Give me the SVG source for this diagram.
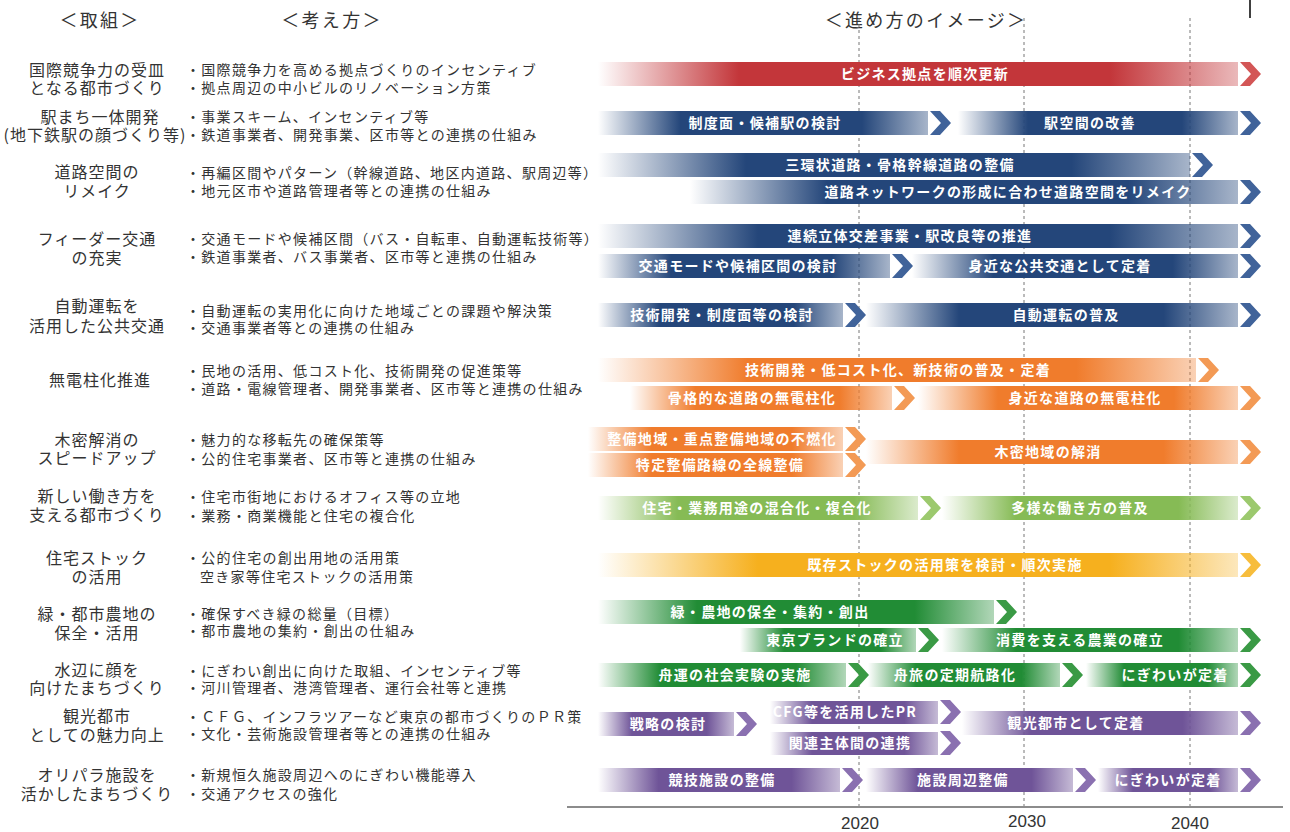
<svg xmlns="http://www.w3.org/2000/svg" width="1290" height="832" viewBox="0 0 1290 832">
<style>
text{font-family:"Noto Sans CJK JP","Noto Sans CJK SC",sans-serif;}
.hd{font-size:18px;fill:#333;text-anchor:middle;letter-spacing:2.3px}
.lt{font-size:16px;fill:#333;text-anchor:middle;letter-spacing:1px}
.mt{font-size:14px;fill:#333;letter-spacing:1.3px}
.bt{font-size:14px;fill:#fff;font-weight:bold;text-anchor:middle;letter-spacing:1.3px}
.yr{font-size:17px;fill:#333;text-anchor:middle;font-family:"Liberation Sans",sans-serif}
.grid{stroke:#777;stroke-width:1;stroke-dasharray:3,3}
.red{fill:url(#gRed)}.cred{fill:#d35656}
.blu{fill:url(#gBlu)}.cblu{fill:#40639a}
.org{fill:url(#gOrg)}.corg{fill:#f39a55}
.lgr{fill:url(#gLgr)}.clgr{fill:#9cc96e}
.yel{fill:url(#gYel)}.cyel{fill:#f7bd3c}
.grn{fill:url(#gGrn)}.cgrn{fill:#3a9a45}
.pur{fill:url(#gPur)}.cpur{fill:#8a70b0}
</style>
<defs>
<linearGradient id="gRed"><stop offset="0" stop-color="#c3363a" stop-opacity="0"/><stop offset="0.22" stop-color="#c3363a"/><stop offset="0.8" stop-color="#c3363a"/><stop offset="1" stop-color="#c3363a" stop-opacity="0.35"/></linearGradient>
<linearGradient id="gBlu"><stop offset="0" stop-color="#24467a" stop-opacity="0"/><stop offset="0.25" stop-color="#24467a"/><stop offset="0.8" stop-color="#24467a"/><stop offset="1" stop-color="#24467a" stop-opacity="0.4"/></linearGradient>
<linearGradient id="gOrg"><stop offset="0" stop-color="#f07c2c" stop-opacity="0"/><stop offset="0.25" stop-color="#f07c2c"/><stop offset="0.8" stop-color="#f07c2c"/><stop offset="1" stop-color="#f07c2c" stop-opacity="0.35"/></linearGradient>
<linearGradient id="gLgr"><stop offset="0" stop-color="#86bb55" stop-opacity="0"/><stop offset="0.25" stop-color="#86bb55"/><stop offset="0.8" stop-color="#86bb55"/><stop offset="1" stop-color="#86bb55" stop-opacity="0.3"/></linearGradient>
<linearGradient id="gYel"><stop offset="0" stop-color="#f6b01e" stop-opacity="0"/><stop offset="0.25" stop-color="#f6b01e"/><stop offset="0.8" stop-color="#f6b01e"/><stop offset="1" stop-color="#f6b01e" stop-opacity="0.3"/></linearGradient>
<linearGradient id="gGrn"><stop offset="0" stop-color="#218c35" stop-opacity="0"/><stop offset="0.25" stop-color="#218c35"/><stop offset="0.8" stop-color="#218c35"/><stop offset="1" stop-color="#218c35" stop-opacity="0.35"/></linearGradient>
<linearGradient id="gPur"><stop offset="0" stop-color="#6f5498" stop-opacity="0"/><stop offset="0.25" stop-color="#6f5498"/><stop offset="0.8" stop-color="#6f5498"/><stop offset="1" stop-color="#6f5498" stop-opacity="0.4"/></linearGradient>
<polygon id="chev" points="0,0 10,0 21,12 10,24 0,24 11,12"/>
</defs>
<rect width="1290" height="832" fill="#fff"/>

<g id="headers">
<text class="hd" x="100" y="27">＜取組＞</text>
<text class="hd" x="332" y="27">＜考え方＞</text>
<text class="hd" x="926" y="27">＜進め方のイメージ＞</text>
<line x1="1250" y1="0" x2="1250" y2="18" stroke="#000" stroke-width="1.5"/>
</g>

<g id="connectors">
<line class="grid" x1="859" y1="18" x2="859" y2="806"/>
<line class="grid" x1="1024" y1="18" x2="1024" y2="806"/>
<line class="grid" x1="1190" y1="18" x2="1190" y2="806"/>
<line x1="567" y1="807" x2="1283" y2="807" stroke="#666" stroke-width="1.5"/>
</g>

<g id="axis-labels">
<text class="yr" x="860" y="829">2020</text>
<text class="yr" x="1027" y="827">2030</text>
<text class="yr" x="1190" y="829">2040</text>
</g>

<g id="row1">
<text class="lt" x="97" y="76">国際競争力の受皿</text>
<text class="lt" x="97" y="94">となる都市づくり</text>
<text class="mt" x="186" y="75">・国際競争力を高める拠点づくりのインセンティブ</text>
<text class="mt" x="186" y="93">・拠点周辺の中小ビルのリノベーション方策</text>
<rect class="red" x="598" y="62" width="640" height="24"/><use href="#chev" class="cred" x="1240" y="62"/>
<text class="bt" x="925" y="79">ビジネス拠点を順次更新</text>
</g>

<g id="row2">
<text class="lt" x="100" y="123">駅まち一体開発</text>
<text class="lt" x="95" y="141">(地下鉄駅の顔づくり等)</text>
<text class="mt" x="186" y="122">・事業スキーム、インセンティブ等</text>
<text class="mt" x="186" y="140">・鉄道事業者、開発事業、区市等との連携の仕組み</text>
<rect class="blu" x="598" y="111" width="330" height="24"/><use href="#chev" class="cblu" x="930" y="111"/>
<rect class="blu" x="958" y="111" width="280" height="24"/><use href="#chev" class="cblu" x="1240" y="111"/>
<text class="bt" x="765" y="128">制度面・候補駅の検討</text>
<text class="bt" x="1090" y="128">駅空間の改善</text>
</g>

<g id="row3">
<text class="lt" x="97" y="178">道路空間の</text>
<text class="lt" x="97" y="197">リメイク</text>
<text class="mt" x="186" y="178">・再編区間やパターン（幹線道路、地区内道路、駅周辺等）</text>
<text class="mt" x="186" y="196">・地元区市や道路管理者等との連携の仕組み</text>
<rect class="blu" x="598" y="153" width="592" height="24"/><use href="#chev" class="cblu" x="1192" y="153"/>
<rect class="blu" x="690" y="180" width="548" height="24"/><use href="#chev" class="cblu" x="1240" y="180"/>
<text class="bt" x="900" y="170">三環状道路・骨格幹線道路の整備</text>
<text class="bt" x="1008" y="197">道路ネットワークの形成に合わせ道路空間をリメイク</text>
</g>

<g id="row4">
<text class="lt" x="97" y="245">フィーダー交通</text>
<text class="lt" x="97" y="264">の充実</text>
<text class="mt" x="186" y="244">・交通モードや候補区間（バス・自転車、自動運転技術等）</text>
<text class="mt" x="186" y="262">・鉄道事業者、バス事業者、区市等と連携の仕組み</text>
<rect class="blu" x="598" y="224" width="640" height="24"/><use href="#chev" class="cblu" x="1240" y="224"/>
<rect class="blu" x="598" y="254" width="292" height="24"/><use href="#chev" class="cblu" x="892" y="254"/>
<rect class="blu" x="912" y="254" width="326" height="24"/><use href="#chev" class="cblu" x="1240" y="254"/>
<text class="bt" x="910" y="241">連続立体交差事業・駅改良等の推進</text>
<text class="bt" x="738" y="271">交通モードや候補区間の検討</text>
<text class="bt" x="1060" y="271">身近な公共交通として定着</text>
</g>

<g id="row5">
<text class="lt" x="97" y="312">自動運転を</text>
<text class="lt" x="97" y="332">活用した公共交通</text>
<text class="mt" x="186" y="316">・自動運転の実用化に向けた地域ごとの課題や解決策</text>
<text class="mt" x="186" y="333">・交通事業者等との連携の仕組み</text>
<rect class="blu" x="598" y="303" width="245" height="24"/><use href="#chev" class="cblu" x="845" y="303"/>
<rect class="blu" x="866" y="303" width="372" height="24"/><use href="#chev" class="cblu" x="1240" y="303"/>
<text class="bt" x="722" y="320">技術開発・制度面等の検討</text>
<text class="bt" x="1066" y="320">自動運転の普及</text>
</g>

<g id="row6">
<text class="lt" x="100" y="386">無電柱化推進</text>
<text class="mt" x="186" y="376">・民地の活用、低コスト化、技術開発の促進策等</text>
<text class="mt" x="186" y="394">・道路・電線管理者、開発事業者、区市等と連携の仕組み</text>
<rect class="org" x="598" y="358" width="598" height="24"/><use href="#chev" class="corg" x="1198" y="358"/>
<rect class="org" x="630" y="386" width="262" height="24"/><use href="#chev" class="corg" x="894" y="386"/>
<rect class="org" x="918" y="386" width="320" height="24"/><use href="#chev" class="corg" x="1240" y="386"/>
<text class="bt" x="898" y="375">技術開発・低コスト化、新技術の普及・定着</text>
<text class="bt" x="752" y="403">骨格的な道路の無電柱化</text>
<text class="bt" x="1085" y="403">身近な道路の無電柱化</text>
</g>

<g id="row7">
<text class="lt" x="97" y="446">木密解消の</text>
<text class="lt" x="97" y="464">スピードアップ</text>
<text class="mt" x="186" y="445">・魅力的な移転先の確保策等</text>
<text class="mt" x="186" y="464">・公的住宅事業者、区市等と連携の仕組み</text>
<rect class="org" x="588" y="427" width="255" height="24"/><use href="#chev" class="corg" x="845" y="427"/>
<rect class="org" x="588" y="453" width="255" height="24"/><use href="#chev" class="corg" x="845" y="453"/>
<rect class="org" x="866" y="440" width="372" height="24"/><use href="#chev" class="corg" x="1240" y="440"/>
<text class="bt" x="722" y="444">整備地域・重点整備地域の不燃化</text>
<text class="bt" x="720" y="470">特定整備路線の全線整備</text>
<text class="bt" x="1048" y="457">木密地域の解消</text>
</g>

<g id="row8">
<text class="lt" x="97" y="502">新しい働き方を</text>
<text class="lt" x="97" y="521">支える都市づくり</text>
<text class="mt" x="186" y="502">・住宅市街地におけるオフィス等の立地</text>
<text class="mt" x="186" y="521">・業務・商業機能と住宅の複合化</text>
<rect class="lgr" x="598" y="496" width="320" height="24"/><use href="#chev" class="clgr" x="920" y="496"/>
<rect class="lgr" x="942" y="496" width="296" height="24"/><use href="#chev" class="clgr" x="1240" y="496"/>
<text class="bt" x="757" y="513">住宅・業務用途の混合化・複合化</text>
<text class="bt" x="1080" y="513">多様な働き方の普及</text>
</g>

<g id="row9">
<text class="lt" x="97" y="564">住宅ストック</text>
<text class="lt" x="97" y="583">の活用</text>
<text class="mt" x="186" y="563">・公的住宅の創出用地の活用策</text>
<text class="mt" x="200" y="582">空き家等住宅ストックの活用策</text>
<rect class="yel" x="598" y="553" width="640" height="24"/><use href="#chev" class="cyel" x="1240" y="553"/>
<text class="bt" x="945" y="570">既存ストックの活用策を検討・順次実施</text>
</g>

<g id="row10">
<text class="lt" x="97" y="620">緑・都市農地の</text>
<text class="lt" x="97" y="639">保全・活用</text>
<text class="mt" x="186" y="619">・確保すべき緑の総量（目標）</text>
<text class="mt" x="186" y="636">・都市農地の集約・創出の仕組み</text>
<rect class="grn" x="598" y="600" width="396" height="24"/><use href="#chev" class="cgrn" x="996" y="600"/>
<rect class="grn" x="740" y="628" width="176" height="24"/><use href="#chev" class="cgrn" x="918" y="628"/>
<rect class="grn" x="942" y="628" width="296" height="24"/><use href="#chev" class="cgrn" x="1240" y="628"/>
<text class="bt" x="770" y="617">緑・農地の保全・集約・創出</text>
<text class="bt" x="835" y="645">東京ブランドの確立</text>
<text class="bt" x="1080" y="645">消費を支える農業の確立</text>
</g>

<g id="row11">
<text class="lt" x="97" y="676">水辺に顔を</text>
<text class="lt" x="97" y="694">向けたまちづくり</text>
<text class="mt" x="186" y="676">・にぎわい創出に向けた取組、インセンティブ等</text>
<text class="mt" x="186" y="693">・河川管理者、港湾管理者、運行会社等と連携</text>
<rect class="grn" x="598" y="663" width="248" height="24"/><use href="#chev" class="cgrn" x="848" y="663"/>
<rect class="grn" x="868" y="663" width="192" height="24"/><use href="#chev" class="cgrn" x="1062" y="663"/>
<rect class="grn" x="1086" y="663" width="152" height="24"/><use href="#chev" class="cgrn" x="1240" y="663"/>
<text class="bt" x="735" y="680">舟運の社会実験の実施</text>
<text class="bt" x="955" y="680">舟旅の定期航路化</text>
<text class="bt" x="1175" y="680">にぎわいが定着</text>
</g>

<g id="row12">
<text class="lt" x="97" y="722">観光都市</text>
<text class="lt" x="97" y="741">としての魅力向上</text>
<text class="mt" x="186" y="722">・ＣＦＧ、インフラツアーなど東京の都市づくりのＰＲ策</text>
<text class="mt" x="186" y="739">・文化・芸術施設管理者等との連携の仕組み</text>
<rect class="pur" x="598" y="712" width="136" height="24"/><use href="#chev" class="cpur" x="736" y="712"/>
<rect class="pur" x="770" y="701" width="168" height="23"/><use href="#chev" class="cpur" x="940" y="700"/>
<rect class="pur" x="770" y="732" width="168" height="23"/><use href="#chev" class="cpur" x="940" y="731"/>
<rect class="pur" x="962" y="711" width="276" height="24"/><use href="#chev" class="cpur" x="1240" y="711"/>
<text class="bt" x="668" y="729">戦略の検討</text>
<text class="bt" x="845" y="717">CFG等を活用したPR</text>
<text class="bt" x="850" y="748">関連主体間の連携</text>
<text class="bt" x="1076" y="728">観光都市として定着</text>
</g>

<g id="row13">
<text class="lt" x="97" y="781">オリパラ施設を</text>
<text class="lt" x="97" y="800">活かしたまちづくり</text>
<text class="mt" x="186" y="780">・新規恒久施設周辺へのにぎわい機能導入</text>
<text class="mt" x="186" y="799">・交通アクセスの強化</text>
<rect class="pur" x="598" y="768" width="242" height="24"/><use href="#chev" class="cpur" x="842" y="768"/>
<rect class="pur" x="866" y="768" width="207" height="24"/><use href="#chev" class="cpur" x="1075" y="768"/>
<rect class="pur" x="1098" y="768" width="140" height="24"/><use href="#chev" class="cpur" x="1240" y="768"/>
<text class="bt" x="722" y="785">競技施設の整備</text>
<text class="bt" x="963" y="785">施設周辺整備</text>
<text class="bt" x="1168" y="785">にぎわいが定着</text>
</g>
</svg>
